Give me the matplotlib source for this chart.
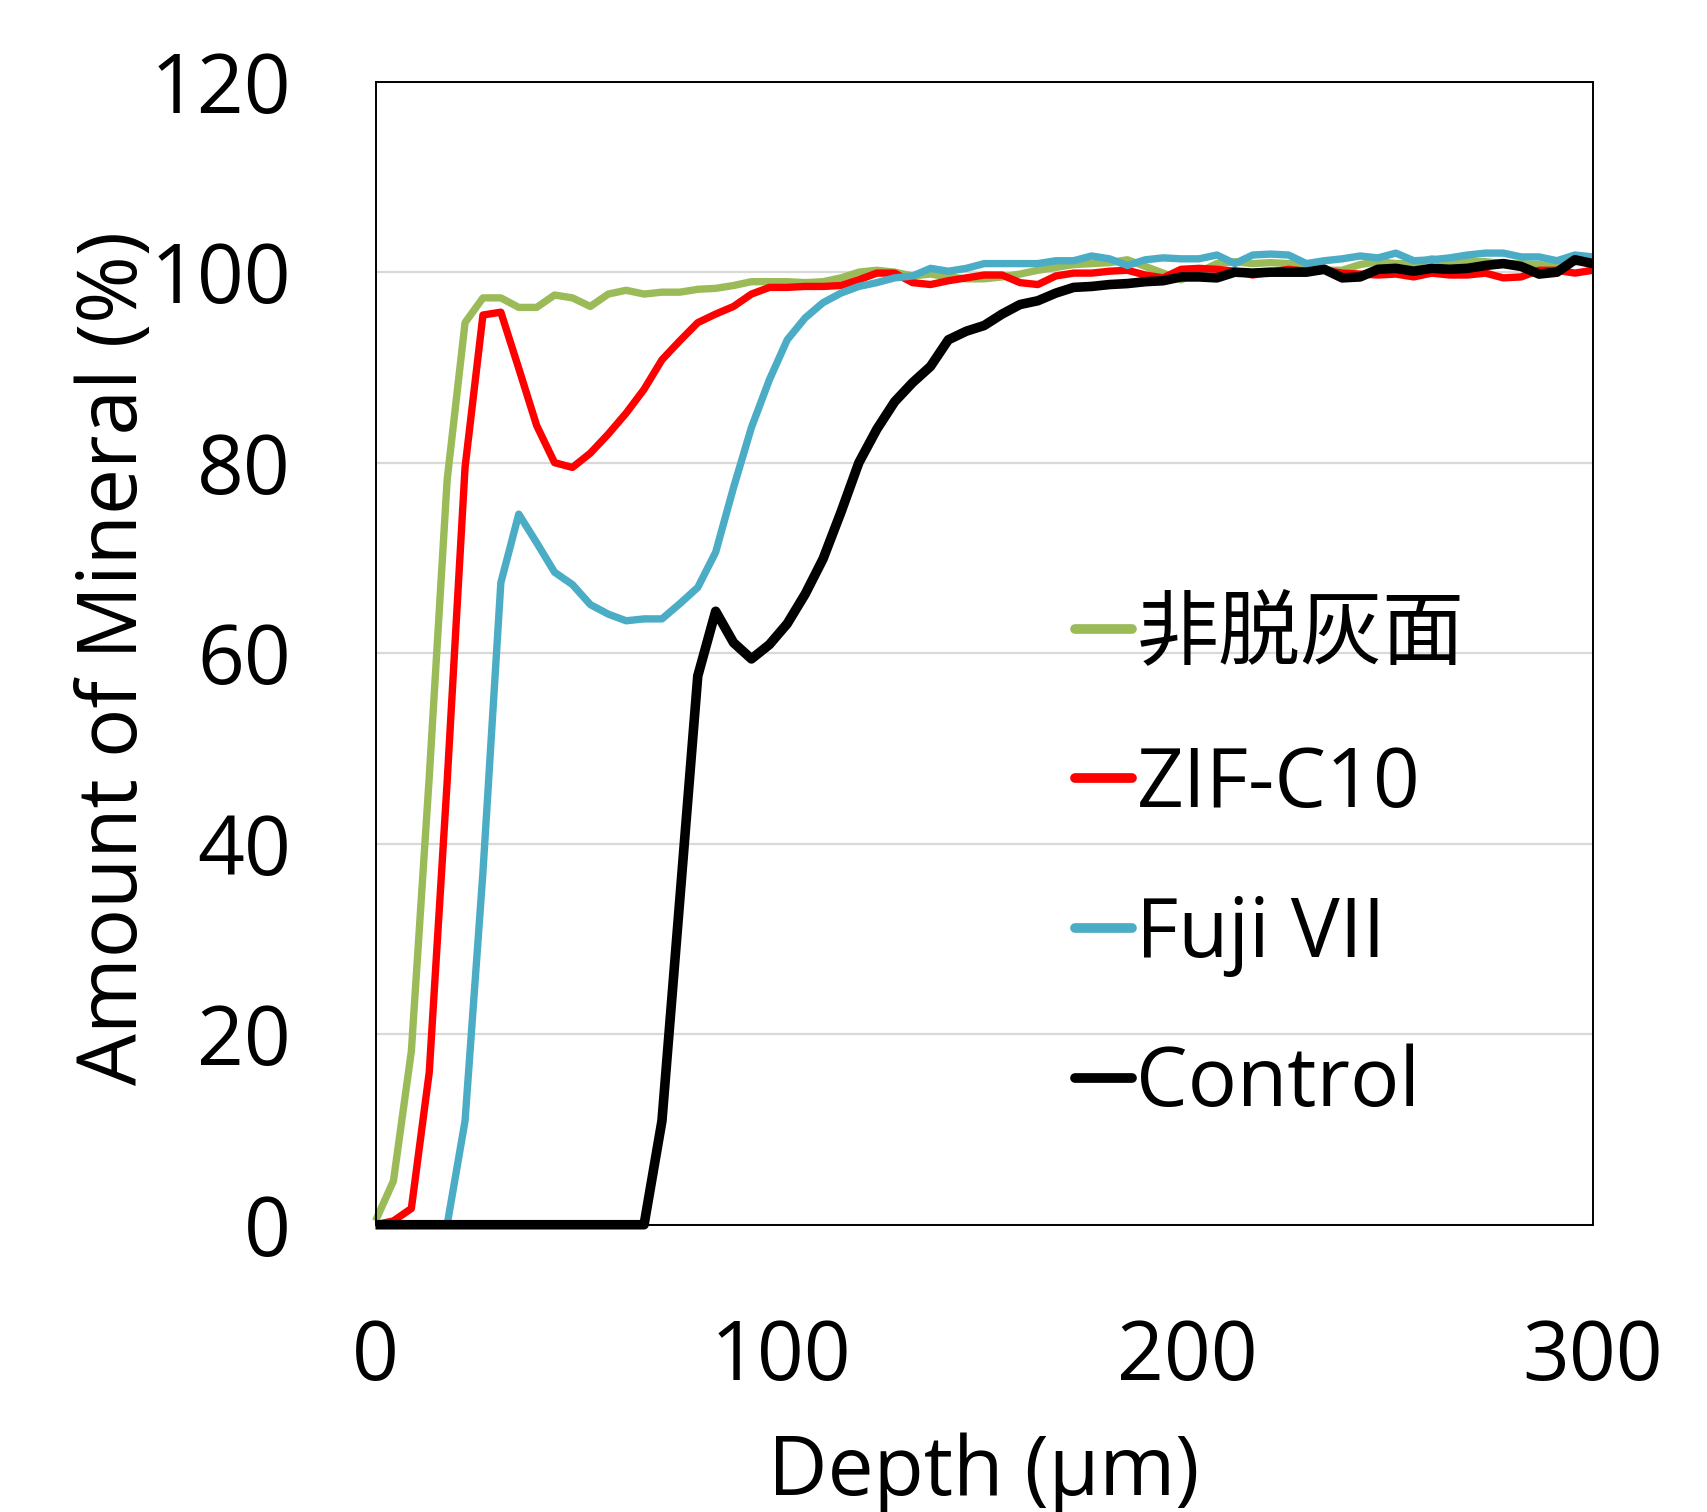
import matplotlib.pyplot as plt
import numpy as np

plt.rcParams['font.family'] = ['Open Sans', 'Noto Sans CJK JP']

# depth grid (69 measuring points, 0-300 um)
depth = np.linspace(0, 300, 69)

labels = ['非脱灰面', 'ZIF-C10', 'Fuji VII', 'Control']
colors = ['#9BBB59', '#FF0000', '#4BACC6', '#000000']

sound = [0.4, 4.6, 18.2, 47, 78.2, 94.7, 97.3, 97.3, 96.3, 96.3,
         97.6, 97.3, 96.4, 97.7, 98.1, 97.7, 97.9, 97.9, 98.2, 98.3,
         98.6, 99.0, 99.0, 99.0, 98.9, 99.0, 99.4, 100.0, 100.2, 100.0,
         99.6, 99.8, 99.5, 99.3, 99.3, 99.5, 99.8, 100.2, 100.5, 100.8,
         100.9, 101.0, 101.3, 100.6, 99.9, 99.2, 100.0, 100.9, 101.1, 100.9,
         101.0, 100.9, 100.9, 100.2, 100.2, 100.8, 101.1, 100.9, 100.9, 101.4,
         101.0, 101.1, 101.1, 100.9, 100.9, 100.8, 100.6, 101.1, 101.1]

zif = [0, 0.4, 1.7, 16.0, 46.5, 79.5, 95.5, 95.8, 89.9, 83.9,
       80.0, 79.5, 81.0, 83.0, 85.2, 87.7, 90.8, 92.8, 94.7, 95.6,
       96.4, 97.7, 98.4, 98.4, 98.5, 98.5, 98.6, 99.2, 99.9, 99.9,
       98.9, 98.7, 99.1, 99.4, 99.7, 99.7, 98.9, 98.7, 99.6, 99.9,
       99.9, 100.1, 100.2, 99.7, 99.4, 100.3, 100.4, 100.3, 100.1, 99.7,
       100.0, 100.3, 100.1, 100.2, 99.9, 99.8, 99.7, 99.8, 99.5, 99.9,
       99.7, 99.7, 99.9, 99.4, 99.5, 100.2, 100.2, 99.9, 100.2]

fuji = [0, 0, 0, 0, 0, 10.9, 37, 67.4, 74.6, 71.6,
        68.5, 67.2, 65.1, 64.1, 63.4, 63.6, 63.6, 65.2, 66.9, 70.6,
        77.4, 83.7, 88.7, 92.9, 95.2, 96.8, 97.8, 98.5, 98.9, 99.4,
        99.6, 100.4, 100.1, 100.4, 100.9, 100.9, 100.9, 100.9, 101.2, 101.2,
        101.7, 101.4, 100.7, 101.3, 101.5, 101.4, 101.4, 101.8, 100.9, 101.8,
        101.9, 101.8, 100.9, 101.2, 101.4, 101.7, 101.5, 102.0, 101.2, 101.3,
        101.5, 101.8, 102.0, 102.0, 101.6, 101.6, 101.2, 101.8, 101.6]

control = [0, 0, 0, 0, 0, 0, 0, 0, 0, 0,
           0, 0, 0, 0, 0, 0, 10.9, 34.2, 57.6, 64.4,
           61.1, 59.4, 60.9, 63.1, 66.2, 69.9, 74.8, 80.0, 83.5, 86.4,
           88.4, 90.1, 92.9, 93.8, 94.4, 95.6, 96.6, 97.0, 97.8, 98.4,
           98.5, 98.7, 98.8, 99.0, 99.1, 99.5, 99.5, 99.4, 100.0, 99.9,
           100.0, 100.0, 100.0, 100.3, 99.4, 99.5, 100.3, 100.4, 100.1, 100.4,
           100.3, 100.4, 100.7, 100.9, 100.6, 99.8, 100.0, 101.3, 100.9]

series = [sound, zif, fuji, control]
widths = [5.3, 5.3, 5.3, 6.9]

fig = plt.figure(figsize=(17.07, 15.12), dpi=100)
ax = fig.add_axes([0.22, 0.19, 0.7131, 0.756])

for vals, lab, col, lw in zip(series, labels, colors, widths):
    ax.plot(depth, vals, color=col, lw=lw, label=lab, clip_on=False,
            solid_joinstyle='round', solid_capstyle='butt')

ax.set_xlim(0, 300)
ax.set_ylim(0, 120)
ax.set_xticks([0, 100, 200, 300])
ax.set_yticks(np.arange(0, 121, 20))
ax.yaxis.grid(True, color='#d9d9d9', lw=1.6)
ax.set_axisbelow(True)
ax.tick_params(length=0, labelsize=59)
ax.tick_params(axis='x', pad=67)
ax.tick_params(axis='y', pad=61)
for s in ax.spines.values():
    s.set_color('black')
    s.set_linewidth(1.4)

fig.text(0.0677, 0.5645, 'Amount of Mineral (%)', rotation=90,
         ha='center', va='center', fontsize=59)
fig.text(0.576, 0.0113, 'Depth (µm)', ha='center', va='baseline', fontsize=59)

leg = ax.legend(loc='upper left', bbox_to_anchor=(0.5746, 0.551), frameon=False,
                fontsize=59, borderaxespad=0, borderpad=0, handlelength=0.69,
                handletextpad=0.06, labelspacing=0.82)
for h in leg.get_lines():
    h.set_linewidth(7)
    h.set_solid_capstyle('round')

fig.savefig('out.png', dpi=100)
